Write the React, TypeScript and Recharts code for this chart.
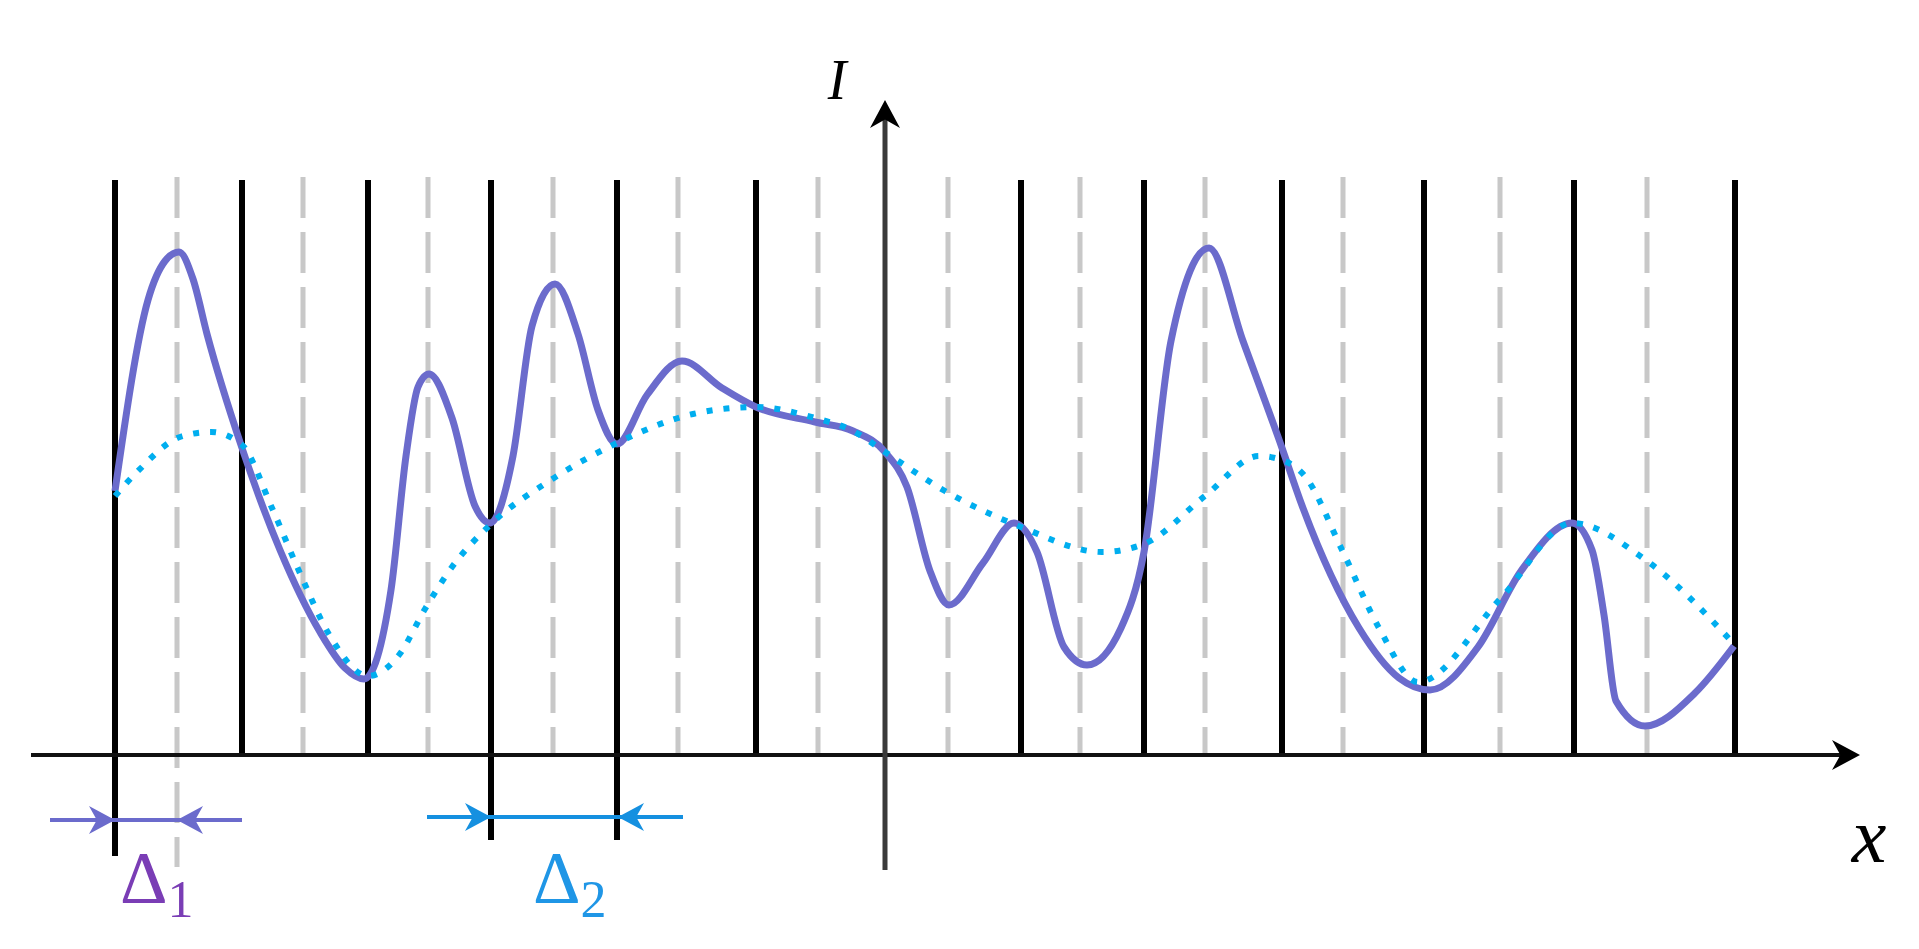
import { ComposedChart, Line, XAxis, YAxis, ReferenceLine, ReferenceDot } from "recharts";

// x is measured from the I axis, I is measured up from the x axis (same arbitrary units)
const pulseX = [
  -770, -737, -720, -706, -692, -678, -643, -605, -565, -540, -521, -494, -479, -467, -456, -433, -410,
  -395, -372, -353, -330, -307, -287, -268, -238, -203, -163, -129, -70, -32, 0, 22, 45, 64,
  98, 129, 152, 179, 202, 236, 259, 286, 324, 358, 397, 415, 474, 514, 545, 593, 636, 687, 707,
  719, 731, 760, 810, 849,
];
const pulseI = [
  264, 455, 494, 503, 476, 421, 307, 205, 123, 87, 76, 165, 299, 368, 381, 337, 249,
  232, 299, 429, 471, 421, 345, 311, 360, 394, 367, 348, 333, 324, 303, 268, 184, 150,
  192, 232, 203, 108, 90, 127, 203, 414, 507, 414, 307, 255, 127, 77, 65, 108, 184, 232, 205,
  140, 54, 29, 62, 109,
];

const envelopeX = [
  -770, -747, -705, -674, -643, -613, -586, -555, -517, -486, -460, -433, -395, -331, -268, -192,
  -129, -70, -32, 0, 60, 136, 217, 259, 320, 374, 397, 419, 458, 494, 533, 616, 687, 762, 849,
];
const envelopeI = [
  259, 284, 318, 323, 310, 247, 184, 119, 79, 100, 146, 188, 230, 277, 312, 341,
  348, 337, 324, 303, 264, 228, 203, 211, 259, 299, 295, 280, 203, 127, 73, 157, 232, 194, 111,
];

// solid pixel borders and dashed pixel centres
const borderX = [-770, -643, -517, -394, -268, -129, 136, 259, 397, 539, 689, 850];
const centreX = [-708, -582, -457, -332, -207, -67, 63, 195, 320, 458, 615, 762];
const longBorders = [-770, -394, -268];
const longCentres = [-708];

const pulse = pulseX.map((x, k) => ({ x, i: pulseI[k] }));
const envelope = envelopeX.map((x, k) => ({ x, i: envelopeI[k] }));

const PURPLE = "#6b6bcc";
const CYAN = "#00aeef";
const BLUE = "#1590e0";
const SERIF = "'Liberation Serif', 'Times New Roman', serif";

function head(color: string, angle: number, len = 26, half = 14) {
  return (p: any) => (
    <path
      transform={`translate(${p.cx},${p.cy}) rotate(${angle})`}
      d={`M0,0 L${-len},${-half} L${-len * 0.7},0 L${-len},${half} Z`}
      fill={color}
    />
  );
}

function delta(sub: string, color: string) {
  return (p: any) => (
    <text x={p.cx} y={p.cy} fill={color} fontFamily={SERIF} fontSize={74}>
      Δ
      <tspan fontSize={52} dy={14}>
        {sub}
      </tspan>
    </text>
  );
}

function italic(label: string, size: number) {
  return (p: any) => (
    <text x={p.cx} y={p.cy} textAnchor="middle" fontFamily={SERIF} fontStyle="italic" fontSize={size} fill="#000">
      {label}
    </text>
  );
}

export default function App() {
  return (
    <div style={{ position: "absolute", left: 0, top: 0, background: "#fff" }}>
      <ComposedChart width={1919} height={949} margin={{ top: 0, right: 0, bottom: 0, left: 0 }}>
        <XAxis type="number" dataKey="x" domain={[-885, 1034]} allowDataOverflow hide />
        <YAxis type="number" dataKey="i" domain={[-194, 755]} allowDataOverflow hide />

        {centreX.map((x) => (
          <ReferenceLine
            key={`c${x}`}
            segment={[{ x, y: 578 }, { x, y: longCentres.includes(x) ? -112 : 0 }]}
            stroke="#c8c8c8"
            strokeWidth={5}
            strokeDasharray="41 14"
            ifOverflow="visible"
          />
        ))}
        {borderX.map((x) => (
          <ReferenceLine
            key={`b${x}`}
            segment={[{ x, y: 575 }, { x, y: x === -770 ? -101 : longBorders.includes(x) ? -85 : 0 }]}
            stroke="#000"
            strokeWidth={6}
            ifOverflow="visible"
          />
        ))}

        {/* axes */}
        <ReferenceLine segment={[{ x: -854, y: 0 }, { x: 962, y: 0 }]} stroke="#111" strokeWidth={4} ifOverflow="visible" />
        <ReferenceDot x={975} y={0} r={0} ifOverflow="visible" shape={head("#000", 0, 28, 15)} />
        <ReferenceLine segment={[{ x: 0, y: -115 }, { x: 0, y: 640 }]} stroke="#3a3a3a" strokeWidth={5} ifOverflow="visible" />
        <ReferenceDot x={0} y={655} r={0} ifOverflow="visible" shape={head("#000", -90, 28, 15)} />

        {/* widths */}
        <ReferenceLine segment={[{ x: -835, y: -65 }, { x: -643, y: -65 }]} stroke={PURPLE} strokeWidth={4} ifOverflow="visible" />
        <ReferenceDot x={-770} y={-65} r={0} ifOverflow="visible" shape={head(PURPLE, 0)} />
        <ReferenceDot x={-708} y={-65} r={0} ifOverflow="visible" shape={head(PURPLE, 180)} />
        <ReferenceLine segment={[{ x: -458, y: -62 }, { x: -202, y: -62 }]} stroke={BLUE} strokeWidth={4} ifOverflow="visible" />
        <ReferenceDot x={-394} y={-62} r={0} ifOverflow="visible" shape={head(BLUE, 0)} />
        <ReferenceDot x={-267} y={-62} r={0} ifOverflow="visible" shape={head(BLUE, 180)} />

        <Line
          data={pulse}
          dataKey="i"
          type="monotone"
          stroke={PURPLE}
          strokeWidth={7}
          dot={false}
          activeDot={false}
          isAnimationActive={false}
        />
        <Line
          data={envelope}
          dataKey="i"
          type="monotone"
          stroke={CYAN}
          strokeWidth={6}
          strokeDasharray="6 11"
          dot={false}
          activeDot={false}
          isAnimationActive={false}
        />

        {/* labels */}
        <ReferenceDot x={-48} y={656} r={0} ifOverflow="visible" shape={italic("I", 56)} />
        <ReferenceDot x={984} y={-107} r={0} ifOverflow="visible" shape={italic("x", 78)} />
        <ReferenceDot x={-765} y={-148} r={0} ifOverflow="visible" shape={delta("1", "#7a3db5")} />
        <ReferenceDot x={-352} y={-148} r={0} ifOverflow="visible" shape={delta("2", "#1f96e6")} />
      </ComposedChart>
    </div>
  );
}
